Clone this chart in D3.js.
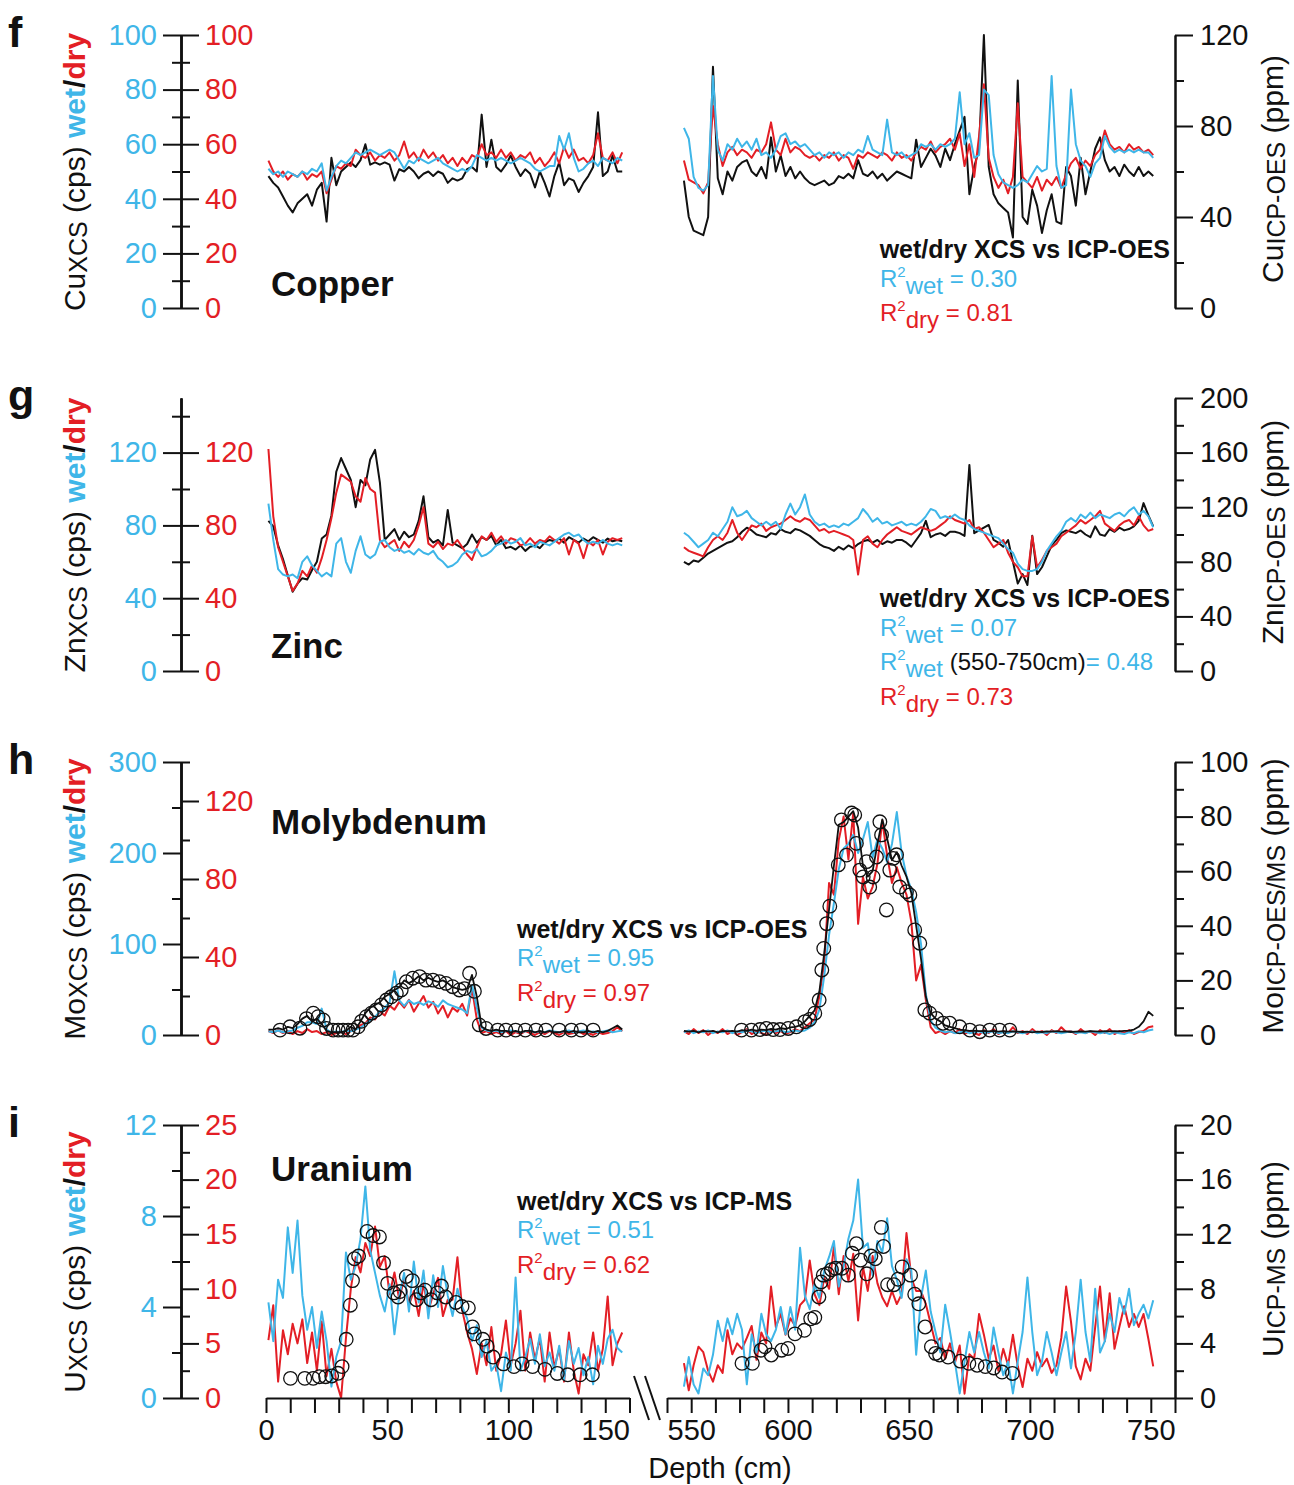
<!doctype html>
<html lang="en">
<head>
<meta charset="utf-8">
<title>XCS wet/dry vs ICP</title>
<script src="https://cdn.jsdelivr.net/npm/d3@7"></script>
<style>
  body { margin: 0; background: #fff; }
  svg text { font-family: "Liberation Sans", Arial, sans-serif; }
</style>
</head>
<body>
<svg width="1294" height="1485"></svg>
<script>
// sample grid: value i sits at depth start + 2*i (cm)
var stepCm = 2, startL = 1, startR = 557;

// ---- Copper ----
var cuWetL = [51,49,50,48,50,49,48,50,49,51, 50,53,43,48,52,54,53,55,57,56, 57,58,57,56,57,58,57,54,51,54,
  53,55,54,53,54,55,53,52,51,50, 51,50,52,56,55,54,55,54,55,54, 53,54,55,54,53,51,50,51,52,52,
  63,58,64,55,50,51,53,54,52,55, 54,53,55,54];
var cuDryL = [54,50,48,50,47,49,48,50,47,49, 48,50,42,47,52,51,53,52,58,56, 55,57,54,56,55,57,54,56,61,55,
  57,54,58,55,57,54,56,53,55,52, 55,53,56,55,60,56,57,55,58,55, 57,54,56,55,57,53,55,52,54,57,
  53,59,55,58,54,55,53,56,64,55, 54,57,53,57];
var cuIcpL = [58,55,53,49,45,42,46,48,50,45, 52,55,38,66,54,60,62,64,62,65, 72,63,64,63,64,63,56,61,60,62,
  60,57,59,60,58,60,59,55,57,56, 57,61,62,60,85,62,74,62,60,63, 67,62,58,61,59,53,60,55,49,58,
  64,54,57,56,51,55,58,62,86,58, 60,67,60,60];
var cuWetR = [66,62,48,44,43,45,85,58,54,60, 58,62,59,61,58,62,56,57,55,58, 63,64,60,61,59,60,58,56,57,55,
  57,56,57,55,57,56,58,57,63,58, 57,56,69,57,56,57,55,56,57,60, 59,60,58,60,59,60,62,79,60,64,
  55,56,80,78,56,49,46,45,44,45, 47,46,49,52,50,51,85,52,44,45, 80,60,54,52,48,53,55,63,59,57,
  58,57,58,57,58,57,57,55];
var cuDryR = [54,47,46,45,42,46,74,60,52,57, 59,56,58,57,55,58,57,60,68,58, 56,62,57,59,58,56,55,56,54,56,
  55,57,54,56,55,51,56,55,57,56, 55,57,56,54,57,55,56,54,57,59, 58,61,57,59,60,62,58,64,52,60,
  48,63,82,55,48,44,47,42,48,75, 48,46,44,48,43,47,45,48,44,49, 53,55,51,54,52,56,58,65,60,58,
  59,57,60,58,59,57,58,56];
var cuIcpR = [56,40,34,33,32,40,106,57,50,60, 56,62,64,65,60,58,62,57,75,60, 67,58,62,57,60,57,55,54,55,56,
  54,55,58,57,59,57,65,59,58,60, 57,59,56,58,60,59,58,57,74,62, 66,70,67,62,70,65,72,78,84,50,
  62,70,120,62,50,46,44,42,31,100, 40,37,52,45,33,43,50,38,37,62, 58,45,66,50,60,70,75,65,60,62,
  58,63,60,58,62,58,60,58];

// ---- Zinc ----
var znWetL = [92,72,56,53,52,53,51,60,63,58, 55,52,54,52,70,73,60,54,66,74, 64,62,64,71,72,68,66,67,65,66,
  64,67,65,64,66,62,60,57,58,60, 64,66,65,67,63,64,66,69,70,72, 70,71,73,69,70,68,71,70,69,71,
  73,75,76,74,75,72,70,71,70,72, 70,69,70,69];
var znDryL = [122,85,68,60,52,44,48,55,52,58, 54,62,72,84,98,108,106,104,96,93, 106,100,98,72,68,70,72,66,71,68,
  72,80,90,70,68,71,67,70,69,72, 68,64,61,68,74,72,76,71,74,70, 73,72,69,70,73,70,72,71,74,72,
  70,73,64,72,70,62,71,69,72,64, 71,73,72,73];
var znIcpL = [110,106,92,82,70,58,64,68,67,74, 80,97,100,114,146,156,148,140,120,140, 136,155,162,138,96,100,104,96,102,98,
  100,110,128,98,94,96,92,118,94,92, 90,93,100,94,98,96,99,92,96,90, 91,89,92,88,91,92,90,94,96,95,
  97,94,98,96,94,97,95,98,96,94, 97,95,96,95];
var znWetR = [76,74,71,68,70,72,76,74,78,82, 90,85,86,88,84,82,80,82,80,82, 78,86,92,86,90,97,86,82,80,81,
  79,80,79,81,80,82,84,89,86,82, 84,81,82,80,81,82,80,81,80,82, 85,89,88,84,85,84,86,84,83,80,
  78,77,76,75,74,73,70,67,65,59, 56,55,55,56,60,66,70,74,77,82, 84,82,86,84,87,84,86,85,84,86,
  87,85,88,90,86,88,85,79];
var znDryR = [68,66,65,64,63,68,72,74,72,76, 83,76,72,76,80,79,81,77,79,80, 81,83,85,83,82,84,83,80,77,78,
  76,77,76,75,74,72,53,72,74,70, 68,72,75,77,79,77,76,75,77,79, 78,77,78,80,82,85,83,82,81,83,
  78,79,76,72,68,70,72,65,60,57, 52,52,74,57,61,66,68,70,74,76, 78,80,83,81,83,85,88,81,79,77,
  80,82,83,80,85,80,77,78];
var znIcpR = [80,78,81,80,83,86,88,90,92,94, 95,98,102,105,103,100,99,98,101,100, 104,102,101,104,103,101,99,96,93,91,
  90,88,91,89,92,90,93,95,96,94, 96,93,95,94,96,96,94,91,96,101, 110,98,100,101,99,102,102,101,99,151,
  101,103,105,107,96,94,91,96,80,64, 71,63,99,71,76,84,92,96,101,103, 102,101,103,100,98,106,100,99,104,102,
  105,103,104,106,110,123,114,106];

// ---- Molybdenum ----
var moWetL = [4,3,5,3,4,5,8,10,14,14, 12,29,6,3,4,3,5,4,6,8, 12,16,20,26,30,36,70,38,32,38,
  34,36,33,37,35,31,38,34,32,30, 28,24,55,30,8,5,4,5,3,4, 5,4,3,4,5,3,4,3,5,4,
  3,4,5,3,4,5,3,4,3,4, 5,3,4,5];
var moDryL = [2,1,2.5,1,2,0.5,2,1,3,1.5, 2,0.5,1.5,0,1,1.5,0.5,2,3,5, 6,9,8,12,10,15,13,17,14,18,
  12,16,20,14,17,11,15,9,14,12, 16,10,24,8,1,2,0.5,1.5,0.5,2, 0,1.5,0.5,2,1,0,1.5,0.5,2,1,
  0,1.5,0.5,1,2,0.5,1,0,1.5,0.5, 1,2,4,2];
var moIcpL = [2,2,2.5,2,3,2.5,4,6,7,5, 6,4,1.5,1,1,1,1.5,3,2,5, 8,10,11,12,14,15,16.5,17.5,20,19,
  20,21.5,20,21,20,19.5,20,19,17.5,17, 16.5,17,22,14,3,2,1.5,2,1.5,1.5, 1,1.5,1,1.5,1.5,1,1.5,1,1.5,1,
  1,1.5,1,1.5,1,1,1.5,1,1.5,1, 1.5,2.5,3.5,2];
var moWetR = [3,5,2,4,3,5,2,4,3,5, 2,4,3,5,4,2,4,5,3,4, 5,3,4,5,4,5,8,14,28,65,
  110,145,182,205,210,220,200,215,234,195, 215,205,190,210,245,200,175,160,135,100, 45,16,8,5,3,4,2,3,4,2,
  3,4,2,3,4,2,3,2,4,3, 2,3,4,2,3,2,4,3,2,3, 4,2,3,2,4,3,2,3,1,3,
  2,1,3,2,4,3,5,6];
var moDryR = [2,0.5,3,1,2.5,0,2,1,3,0.5, 2,0,1.5,3,0.5,2,1,0,2.5,1, 2,0.5,1.5,3,2,4,6,8,20,37,
  78,72,100,112,90,114,57,81,70,76, 88,110,92,78,86,78,72,58,28,36, 18,4,1,2,0.5,2,1,3,0.5,2,
  1,0,2.5,1,3,0.5,2,1,4,1, 2,0.5,3,1,2,0,2.5,1,4,1.5, 2,0.5,3,1,2,0,2.5,1,3,0.5,
  2,1,2.5,0.5,1.5,2,4,4.5];
var moIcpR = [1.5,1.2,1.5,1,1.5,1.2,1.5,1,1.5,1.3, 1.5,1.2,1.8,1.5,2,1.6,2,1.8,2.2,2, 2.5,2.2,2.8,3,3.5,5,7,9,16,30,
  46,62,77,78,80,82,76,62,58,60, 70,79,72,64,67,62,58,52,40,28, 14,8,6,5,3.5,3,2.5,2,1.8,1.5,
  1.6,1.4,1.5,1.3,1.5,1.2,1.4,1.2,1.3,1.2, 1.1,1.2,1,1.2,1.1,1.3,1.2,1.4,1.2,1.3, 1.1,1.2,1.3,1.2,1.4,1.3,1.2,1.4,1.3,1.4,
  1.3,1.5,1.6,2,3,5,8.5,7];
var moCircDepthL = [5.8,9.9,14,16.7,19.5,21.5,23.6,25,27.7,29.8, 31.8,33.9,35.9,38,39.4,41.4,43.5,45.5,47.6,49.7,
  51.7,53.8,55.8,57.9,60.6,63.4,66,68.9,71.6,74.3, 77,79.8,81.9,84,86,88,90.8,95.6,99,103, 107,111.4,115.5,121,126,130,135];
var moCircL = [1.8,3,2.5,6,8,6.7,5.5,2.4,1.8,1.8, 1.8,1.8,1.8,3,5,6.7,8,9.2,11,12.8,
  14,15.3,16.5,19.5,20.8,21.4,20.1,20.1,19.5,18.9, 17.7,16.5,17,22.6,16,3.7,2.4,1.8,1.8,1.8, 1.8,1.8,1.8,1.8,1.8,1.8,1.8];
var moCircDepthR = [580.8,584.9,588.4,591.1,593.9,596.7,600.1,603.5,607,609, 611.1,612.9,614,614.8,616,617.3,620.8,622.1,624.2,626.3,
  627.6,628.3,629.7,631.1,632.5,633.8,635.2,636.6,638,638.7, 640.7,642.1,643.5,644.9,646.2,649,650.4,652.4,654.5,656.6,
  658.6,661.4,664.1,666.9,671,675.2,679.3,683.4,687.5,691.7];
var moCircR = [1.8,1.8,2,2.4,2,2,2.4,3,4.9,5.7, 8,12.8,23.8,31.7,40.8,47.2,62.3,78.8,65.9,81.3,
  80.6,70.2,60.4,57.9,63.5,54.2,57.9,65.2,78.1,73.3, 45.8,60.4,64.7,66,54.2,52.5,51.3,38.5,33.6,9.2,
  8,6.1,4.3,4.3,3,1.8,1.2,1.8,1.8,1.8];

// ---- Uranium ----
var uWetL = [4.2,2.5,5.2,4.4,7.5,5.5,7.8,4.5,3,4, 2.2,3.8,2.5,0.5,1.8,2.5,6.4,5.2,5.8,7, 9.3,6.5,5.5,4.5,3.8,5,2.8,4.5,5.5,3.8,
  6,4.2,5.6,3.5,5.4,4,5.8,4.5,3.6,4.8, 4,3.5,2.5,3.2,1.8,2.5,1.2,1.5,0.3,2, 1.2,5.3,1.2,1.8,2.6,1.5,2.8,1.4,2,1.2,
  2.3,0.8,2.5,1.5,2.2,1,1.8,0.6,2.3,1.5, 2.6,3,2.2,2];
var uDryL = [5.3,8.5,1.5,6.2,4,6.8,5,7.2,3.2,6, 2.5,7,2,4.5,1.5,0,5.5,10,12.9,11.5, 14.2,13,15.7,12,13,9.5,11.5,9,11,8.5,
  9.8,7.5,10.5,8,9.5,11,7.5,9,9,12.9, 8,6,4.5,2.2,5,3,6.5,2.5,4,7.1, 3,5,8,2.5,6,3.5,5.5,1.5,6,2.8,
  4.5,1.5,6,2.5,0.4,4,3,6,2.5,4.5, 9.3,3,5,6];
var uWetR = [0.5,1.8,0.6,0.2,1.3,1,1.9,3.4,2.5,3.5, 2.8,3.7,3,0.6,2.8,2,3.7,2.8,2.5,3, 4,2.8,4,3,6.6,4.5,3.9,5,4.4,5.6,
  6.2,6.9,4.9,5.8,7,7.8,9.6,6.6,6.8,5.4, 6.9,6.4,7.9,5.8,5.2,4.4,6.1,5.6,1.9,4.4, 5.6,3.8,2.9,2,4.1,2.9,1.6,0.2,1.6,2.9,
  2,2.9,2,1.3,3.1,2,1,1.6,0.2,1.6, 2.9,5.3,2.9,1,1.6,2.9,2,1,2,2.9, 1.3,2.9,5.2,2.9,1.6,4.8,2,2.5,3.7,2.9,
  4.4,3.7,4.8,3.2,3.7,4.1,3.5,4.3];
var uDryR = [3.2,0.7,3,4.7,4.2,2.5,1.5,3,2.3,6.2, 4,5,4.5,5.5,6.6,3.5,6,5,10.2,6.5, 7.7,5.8,7.3,6.6,8.5,9,12.6,9.5,8.5,11,
  10,13.9,9.5,13,10.7,13.2,7.1,12,9.8,13, 10.5,9.2,8.4,9.8,8.6,9.5,15.1,11,9.8,9.8, 8.6,6.8,5,5.5,3.6,5,3.2,4.8,0.4,4,
  3.6,7.7,5.8,3.6,4.8,2.5,4.5,3,5.8,2.9, 1,3.6,2.5,4.2,2.9,3.6,2.3,3,5.5,10.2, 7,2.9,1.7,3.6,2.5,6.5,10.2,5.2,9.6,4.5,
  6.5,8.4,6.5,7.7,6.5,7.7,5.4,2.9];
var uCircDepthL = [10.1,16,19.5,22,24.6,27.1,29.7,31.4,33.1,34.8, 35.7,36.5,38.2,41.7,44.2,46.8,48.5,50.2,52.8,54.5,
  55.3,57.9,60.4,62.1,63.9,65.6,68.1,70.7,72.4,74.1, 78.4,80.9,83.5,85.2,86,89.5,91.2,93.7,98,102.3, 105.7,110,115.1,120.2,124.5,129.6,134.7];
var uCircL = [1.44,1.44,1.44,1.56,1.56,1.61,1.81,2.3,4.3,6.8, 8.6,10.2,10.4,12.2,11.9,11.8,9.9,8.4,7.7,7.4,
  7.8,8.9,8.6,7.2,7.7,7.9,7.2,7.7,8.2,7.4, 7,6.7,6.6,5.2,4.7,4.3,3.8,3,2.5,2.3, 2.5,2.3,2.1,1.8,1.7,1.7,1.7];
var uCircDepthR = [581,585.3,588.8,590.5,593.1,597.4,600,602.9,606.8,609.4, 611.1,612.8,613.7,614.6,616.3,618,619.7,622.3,624.9,626.6,
  628.3,630,632.6,634.3,636.1,638.6,639.5,641.2,643.8,645.5, 647.2,650.7,652.4,654.1,656.7,659.3,661,662.7,666.2,671.3,
  674.8,678.2,681.6,685.1,688.5,692.8];
var uCircR = [2.54,2.54,3.5,3.76,3.15,3.5,3.63,4.7,4.96,5.8, 5.9,7.4,8.5,9,9.1,9.4,9.5,9.5,9,10.6,
  11.3,10.1,9.1,10.4,10.2,12.5,11.1,8.3,8.3,8.7, 9.6,9,7.6,6.9,5.2,3.76,3.27,3.15,3,2.7, 2.54,2.4,2.3,2.2,1.9,1.8];

// ---- axes ticks ----
var xTicksL = [0,10,20,30,40,50,60,70,80,90,100,110,120,130,140,150];
var xTicksR = [550,560,570,580,590,600,610,620,630,640,650,660,670,680,690,700,710,720,730,740,750,760];
var xLabels = [0,50,100,150,550,600,650,700,750];

var blue = '#3fb6e8', red = '#e31e25', ink = '#111';
var svg = d3.select('svg');
var xL = d3.scaleLinear().domain([0, 150]).range([266, 629.5]);
var xR = d3.scaleLinear().domain([550, 760]).range([667, 1175]);
var axisX = 181, rightX = 1175, panelH = 273;

var panels = [
  { top: 35, letter: 'f', name: 'Copper', el: 'Cu', nameY: 296,
    wet: [0, 100], wetTicks: [0,20,40,60,80,100], wetMinor: [10,30,50,70,90],
    dry: [0, 100], dryTicks: [0,20,40,60,80,100], dryMinor: [10,30,50,70,90],
    icp: [0, 120], icpTicks: [0,40,80,120], icpMinor: [20,60,100], icpSub: 'ICP-OES',
    wetL: cuWetL, dryL: cuDryL, icpL: cuIcpL, wetR: cuWetR, dryR: cuDryR, icpR: cuIcpR },
  { top: 398, letter: 'g', name: 'Zinc', el: 'Zn', nameY: 658,
    wet: [0, 150], wetTicks: [0,40,80,120], wetMinor: [20,60,100,140],
    dry: [0, 150], dryTicks: [0,40,80,120], dryMinor: [20,60,100,140],
    icp: [0, 200], icpTicks: [0,40,80,120,160,200], icpMinor: [20,60,100,140,180], icpSub: 'ICP-OES',
    wetL: znWetL, dryL: znDryL, icpL: znIcpL, wetR: znWetR, dryR: znDryR, icpR: znIcpR },
  { top: 762, letter: 'h', name: 'Molybdenum', el: 'Mo', nameY: 834,
    wet: [0, 300], wetTicks: [0,100,200,300], wetMinor: [50,150,250],
    dry: [0, 140], dryTicks: [0,40,80,120], dryMinor: [20,60,100,140],
    icp: [0, 100], icpTicks: [0,20,40,60,80,100], icpMinor: [10,30,50,70,90], icpSub: 'ICP-OES/MS',
    wetL: moWetL, dryL: moDryL, icpL: moIcpL, wetR: moWetR, dryR: moDryR, icpR: moIcpR,
    circ: [[moCircDepthL, moCircL], [moCircDepthR, moCircR]], icpOnTop: true },
  { top: 1125, letter: 'i', name: 'Uranium', el: 'U', nameY: 1181,
    wet: [0, 12], wetTicks: [0,4,8,12], wetMinor: [2,6,10],
    dry: [0, 25], dryTicks: [0,5,10,15,20,25], dryMinor: [2.5,7.5,12.5,17.5,22.5],
    icp: [0, 20], icpTicks: [0,4,8,12,16,20], icpMinor: [2,6,10,14,18], icpSub: 'ICP-MS',
    wetL: uWetL, dryL: uDryL, wetR: uWetR, dryR: uDryR,
    circ: [[uCircDepthL, uCircL], [uCircDepthR, uCircR]], icpOnTop: true }
];

function styleAxis(g, color) {
  g.selectAll('.domain').attr('stroke', ink).attr('stroke-width', 2);
  g.selectAll('.tick line').attr('stroke', ink).attr('stroke-width', 2);
  g.selectAll('text').style('font-size', '29px').style('fill', color)
    .style('font-family', '"Liberation Sans", Arial, sans-serif');
}

function series(vals, start, xs, ys, color, w) {
  var line = d3.line()
    .x(function(d, i){ return xs(start + stepCm * i); })
    .y(function(d){ return ys(d); });
  svg.append('path').datum(vals)
    .attr('d', line).attr('fill', 'none')
    .attr('stroke', color).attr('stroke-width', w || 2)
    .attr('stroke-linejoin', 'round');
}

function circles(depths, vals, xs, ys) {
  svg.append('g').selectAll('circle').data(depths).enter()
    .append('circle')
      .attr('cx', function(d){ return xs(d); })
      .attr('cy', function(d, i){ return ys(vals[i]); })
      .attr('r', 6.8)
      .attr('fill', 'none').attr('stroke', ink).attr('stroke-width', 1.3);
}

function addParts(t, parts) {
  var shift = 0;
  parts.forEach(function(p){
    var s = t.append('tspan').text(p.t);
    var want = p.dy || 0;
    if (want !== shift) { s.attr('dy', want - shift); shift = want; }
    if (p.size) s.style('font-size', p.size + 'px');
    if (p.fill) s.attr('fill', p.fill);
    if (p.bold) s.attr('font-weight', 'bold');
  });
}

function rotTitle(x, cy, parts) {
  var t = svg.append('text')
    .attr('transform', 'translate(' + x + ',' + cy + ') rotate(-90)')
    .attr('text-anchor', 'middle').style('font-size', '30px').attr('fill', ink);
  addParts(t, parts);
}

function rLine(x, y, color, sub, rest) {
  var t = svg.append('text').attr('x', x).attr('y', y).style('font-size', '24px').attr('fill', color);
  addParts(t, [{ t: 'R' }, { t: '2', size: 15, dy: -10 }, { t: sub, dy: 7 }].concat(rest));
}

panels.forEach(function(p){
  var bottom = p.top + panelH;
  var yW = d3.scaleLinear().domain(p.wet).range([bottom, p.top]);
  var yD = d3.scaleLinear().domain(p.dry).range([bottom, p.top]);
  var yI = d3.scaleLinear().domain(p.icp).range([bottom, p.top]);

  // left double axis
  var la = svg.append('g').attr('transform', 'translate(' + axisX + ',0)');
  la.append('g').call(d3.axisLeft(yW).tickValues(p.wetMinor).tickSize(9).tickSizeOuter(0).tickFormat(''));
  la.append('g').call(d3.axisRight(yD).tickValues(p.dryMinor).tickSize(9).tickSizeOuter(0).tickFormat(''));
  var aw = la.append('g').call(d3.axisLeft(yW).tickValues(p.wetTicks).tickSize(18).tickPadding(6).tickSizeOuter(0));
  var ad = la.append('g').call(d3.axisRight(yD).tickValues(p.dryTicks).tickSize(18).tickPadding(6).tickSizeOuter(0));
  la.selectAll('g').each(function(){ styleAxis(d3.select(this), ink); });
  styleAxis(aw, blue);
  styleAxis(ad, red);

  // right ICP axis
  var ra = svg.append('g').attr('transform', 'translate(' + rightX + ',0)');
  ra.append('g').call(d3.axisRight(yI).tickValues(p.icpMinor).tickSize(9).tickSizeOuter(0).tickFormat(''));
  ra.append('g').call(d3.axisRight(yI).tickValues(p.icpTicks).tickSize(18).tickPadding(7).tickSizeOuter(0));
  ra.selectAll('g').each(function(){ styleAxis(d3.select(this), ink); });

  // data
  if (!p.icpOnTop && p.icpL) { series(p.icpL, startL, xL, yI, ink); series(p.icpR, startR, xR, yI, ink); }
  series(p.dryL, startL, xL, yD, red);
  series(p.dryR, startR, xR, yD, red);
  series(p.wetL, startL, xL, yW, blue);
  series(p.wetR, startR, xR, yW, blue);
  if (p.icpOnTop && p.icpL) { series(p.icpL, startL, xL, yI, ink, 1.8); series(p.icpR, startR, xR, yI, ink, 1.8); }
  if (p.circ) {
    circles(p.circ[0][0], p.circ[0][1], xL, yI);
    circles(p.circ[1][0], p.circ[1][1], xR, yI);
  }

  // labels
  svg.append('text').attr('x', 8).attr('y', p.top + 12).attr('font-weight', 'bold')
    .style('font-size', '43px').attr('fill', ink).text(p.letter);
  svg.append('text').attr('x', 271).attr('y', p.nameY).attr('font-weight', 'bold')
    .style('font-size', '35px').attr('fill', ink).text(p.name);

  rotTitle(85, p.top + 137, [
    { t: p.el }, { t: 'XCS', size: 25, dy: 2 }, { t: ' (cps) ' },
    { t: 'wet', fill: blue, bold: true }, { t: '/', bold: true }, { t: 'dry', fill: red, bold: true }
  ]);
  rotTitle(1283, p.top + 134, [
    { t: p.el }, { t: p.icpSub, size: 25, dy: 2 }, { t: ' (ppm)' }
  ]);
});

// correlation notes
function note(x, y, anchor, txt) {
  svg.append('text').attr('x', x).attr('y', y).attr('text-anchor', anchor)
    .attr('font-weight', 'bold').style('font-size', '25px').attr('fill', ink).text(txt);
}
note(1170, 258, 'end', 'wet/dry XCS vs ICP-OES');
rLine(880, 287, blue, 'wet', [{ t: ' = 0.30', dy: 0 }]);
rLine(880, 321, red, 'dry', [{ t: ' = 0.81', dy: 0 }]);

note(1170, 607, 'end', 'wet/dry XCS vs ICP-OES');
rLine(880, 636, blue, 'wet', [{ t: ' = 0.07', dy: 0 }]);
rLine(880, 670, blue, 'wet', [{ t: ' (550-750cm)', dy: 0, fill: ink }, { t: '= 0.48', dy: 0 }]);
rLine(880, 705, red, 'dry', [{ t: ' = 0.73', dy: 0 }]);

note(517, 938, 'start', 'wet/dry XCS vs ICP-OES');
rLine(517, 966, blue, 'wet', [{ t: ' = 0.95', dy: 0 }]);
rLine(517, 1001, red, 'dry', [{ t: ' = 0.97', dy: 0 }]);

note(517, 1210, 'start', 'wet/dry XCS vs ICP-MS');
rLine(517, 1238, blue, 'wet', [{ t: ' = 0.51', dy: 0 }]);
rLine(517, 1273, red, 'dry', [{ t: ' = 0.62', dy: 0 }]);

// broken depth axis
var baseY = 1398;
function fmtX(d){ return xLabels.indexOf(d) >= 0 ? d : ''; }
var axL = svg.append('g').attr('transform', 'translate(0,' + baseY + ')')
  .call(d3.axisBottom(xL).tickValues(xTicksL).tickSize(15).tickPadding(6).tickSizeOuter(0).tickFormat(fmtX));
var axR = svg.append('g').attr('transform', 'translate(0,' + baseY + ')')
  .call(d3.axisBottom(xR).tickValues(xTicksR).tickSize(15).tickPadding(6).tickSizeOuter(0).tickFormat(fmtX));
styleAxis(axL, ink);
styleAxis(axR, ink);
// labels next to the break sit one minor step inward
axL.selectAll('.tick text').filter(function(d){ return d === 150; }).attr('dx', xL(140) - xL(150));
axR.selectAll('.tick text').filter(function(d){ return d === 550; }).attr('dx', xR(560) - xR(550));

[634, 645].forEach(function(x0){
  svg.append('line').attr('x1', x0).attr('y1', 1376).attr('x2', x0 + 15).attr('y2', 1420)
    .attr('stroke', ink).attr('stroke-width', 2);
});

svg.append('text').attr('x', 720).attr('y', 1478).attr('text-anchor', 'middle')
  .style('font-size', '29px').attr('fill', ink).text('Depth (cm)');
</script>
</body>
</html>
